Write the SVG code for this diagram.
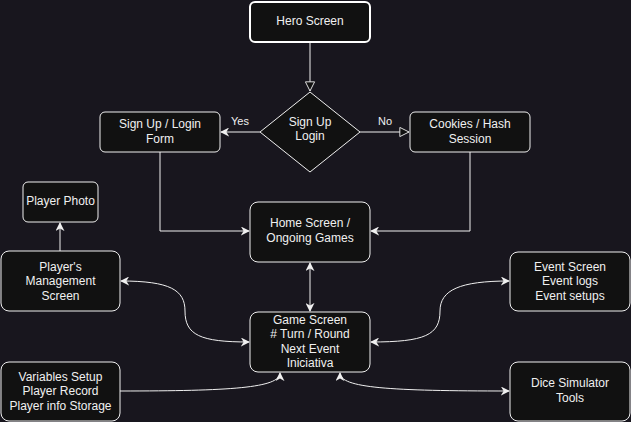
<svg xmlns="http://www.w3.org/2000/svg" width="631" height="422" viewBox="0 0 631 422">
<style>
.n{fill:#111111;stroke:#f0f0f0;stroke-width:1}
.h{fill:#111111;stroke:#ffffff;stroke-width:2}
.t{font-family:"Liberation Sans",Arial,sans-serif;font-size:12px;fill:#f0f0f0;text-anchor:middle}
.e{fill:none;stroke:#f0f0f0;stroke-width:1}
</style>
<defs>
<marker id="a" viewBox="0 0 10 10" refX="9" refY="5" markerWidth="9" markerHeight="9" markerUnits="userSpaceOnUse" orient="auto-start-reverse">
<path d="M0,0 L10,5 L0,10 L3,5 Z" fill="#f0f0f0"/>
</marker>
<marker id="o" viewBox="0 0 12 12" refX="11" refY="6" markerWidth="11" markerHeight="11" markerUnits="userSpaceOnUse" orient="auto">
<path d="M1,1 L11,6 L1,11 Z" fill="#111111" stroke="#f0f0f0" stroke-width="1"/>
</marker>
</defs>
<rect width="631" height="422" fill="#18161e"/>
<g id="connectors">
<path class="e" d="M310,42 L310,91" marker-end="url(#o)"/>
<path class="e" d="M260,132 L221,132" marker-end="url(#a)"/>
<path class="e" d="M360,132 L409,132" marker-end="url(#o)"/>
<path class="e" d="M160,152 L160,231 L249,231" marker-end="url(#a)"/>
<path class="e" d="M470,152 L470,231 L371,231" marker-end="url(#a)"/>
<path class="e" d="M60,251 L60,223" marker-end="url(#a)"/>
<path class="e" d="M310,263 L310,311" marker-start="url(#a)" marker-end="url(#a)"/>
<path class="e" d="M121,281 C170,281 185,290 185,311 C185,335 200,342 249,342" marker-start="url(#a)" marker-end="url(#a)"/>
<path class="e" d="M509,281 C460,281 440,290 440,311 C440,335 425,342 371,342" marker-start="url(#a)" marker-end="url(#a)"/>
<path class="e" d="M120,391 C230,391 280,388 280,373" marker-end="url(#a)"/>
<path class="e" d="M340,373 C340,388 390,391 509,391" marker-start="url(#a)" marker-end="url(#a)"/>
<text class="t" x="240" y="125" style="font-size:11px">Yes</text>
<text class="t" x="385" y="125" style="font-size:11px">No</text>
</g>
<g id="hero"><rect class="h" x="250" y="2" width="120" height="40" rx="5"/><text class="t" x="310" y="25">Hero Screen</text></g>
<g id="decision"><path class="n" d="M310,92 L360,132 L310,172 L260,132 Z"/><text class="t" x="310" y="126">Sign Up</text><text class="t" x="310" y="140">Login</text></g>
<g id="signup"><rect class="n" x="100" y="112" width="120" height="40" rx="5"/><text class="t" x="160" y="128">Sign Up / Login</text><text class="t" x="160" y="143">Form</text></g>
<g id="cookies"><rect class="n" x="410" y="112" width="120" height="40" rx="5"/><text class="t" x="470" y="128">Cookies / Hash</text><text class="t" x="470" y="143">Session</text></g>
<g id="photo"><rect class="n" x="23" y="182" width="75" height="40" rx="5"/><text class="t" x="60.5" y="205">Player Photo</text></g>
<g id="home"><rect class="n" x="250" y="202" width="120" height="60" rx="8"/><text class="t" x="310" y="227">Home Screen /</text><text class="t" x="310" y="242">Ongoing Games</text></g>
<g id="management"><rect class="n" x="1" y="251" width="119" height="60" rx="8"/><text class="t" x="60.5" y="271">Player's</text><text class="t" x="60.5" y="285">Management</text><text class="t" x="60.5" y="300">Screen</text></g>
<g id="event"><rect class="n" x="510" y="252" width="120" height="59" rx="8"/><text class="t" x="570" y="271">Event Screen</text><text class="t" x="570" y="285">Event logs</text><text class="t" x="570" y="300">Event setups</text></g>
<g id="game"><rect class="n" x="250" y="312" width="120" height="60" rx="8"/><text class="t" x="310" y="324">Game Screen</text><text class="t" x="310" y="338"># Turn / Round</text><text class="t" x="310" y="353">Next Event</text><text class="t" x="310" y="367">Iniciativa</text></g>
<g id="variables"><rect class="n" x="1" y="362" width="119" height="59" rx="8"/><text class="t" x="60.5" y="381">Variables Setup</text><text class="t" x="60.5" y="395">Player Record</text><text class="t" x="60.5" y="410">Player info Storage</text></g>
<g id="dice"><rect class="n" x="510" y="362" width="120" height="59" rx="8"/><text class="t" x="570" y="387">Dice Simulator</text><text class="t" x="570" y="402">Tools</text></g>
</svg>
